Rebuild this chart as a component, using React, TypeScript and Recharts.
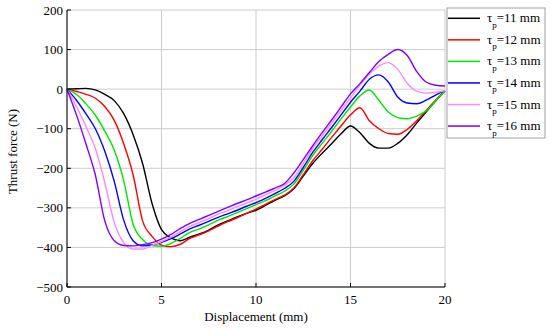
import { LineChart, Line, XAxis, YAxis, CartesianGrid } from 'recharts';

// displacement (mm)
const xs = [
  0, 0.5, 1, 1.5, 2, 2.5, 3, 3.5, 4, 4.5, 5, 5.5, 6, 6.5, 7, 7.5, 8, 8.5, 9, 9.5, 10,
  10.5, 11, 11.5, 12, 12.5, 13, 13.5, 14, 14.5, 15, 15.5, 16, 16.5, 17, 17.5, 18, 18.5, 19, 19.5, 20,
];

// thrust force (N) for each pole pitch
const tau11 = [
  0, 1, 2, -2, -13, -29, -62, -115, -188, -289, -355, -376, -383, -374, -366, -356, -343, -333, -323, -314, -306,
  -294, -281, -270, -252, -220, -188, -162, -138, -113, -93, -110, -137, -149, -149, -137, -115, -86, -58, -30, -4,
];
const tau12 = [
  0, -6, -13, -23, -44, -79, -138, -217, -333, -372, -394, -398, -392, -377, -368, -358, -346, -335, -325, -314, -303,
  -291, -279, -268, -250, -216, -181, -152, -122, -93, -65, -47, -80, -100, -112, -114, -102, -80, -54, -28, -4,
];
const tau13 = [
  0, -13, -37, -66, -106, -154, -231, -342, -380, -395, -397, -390, -377, -362, -353, -343, -331, -322, -312, -302, -292,
  -282, -270, -258, -240, -205, -168, -137, -107, -75, -45, -17, -2, -28, -58, -72, -75, -68, -55, -30, -4,
];
const tau14 = [
  0, -28, -62, -100, -157, -233, -331, -383, -396, -394, -387, -378, -366, -353, -344, -334, -324, -315, -306, -296, -287,
  -276, -264, -251, -233, -198, -160, -128, -97, -65, -33, -5, 25, 36, 18, -20, -35, -37, -28, -15, -4,
];
const tau15 = [
  0, -44, -94, -150, -236, -337, -388, -404, -404, -395, -385, -374, -360, -347, -337, -327, -316, -307, -297, -288, -278,
  -267, -256, -243, -224, -188, -150, -118, -86, -54, -22, 10, 38, 58, 67, 50, 15, -5, -10, -8, -4,
];
const tau16 = [
  0, -65, -138, -217, -333, -383, -395, -396, -393, -388, -379, -367, -352, -339, -329, -319, -309, -299, -289, -280, -270,
  -260, -250, -239, -212, -178, -143, -110, -78, -45, -12, 14, 42, 70, 88, 100, 85, 45, 18, 10, 8,
];

const xTicks = [0, 5, 10, 15, 20];
const yTicks = [-500, -400, -300, -200, -100, 0, 100, 200];

const series = [
  { key: 't11', label: '=11 mm', color: '#000000', values: tau11 },
  { key: 't12', label: '=12 mm', color: '#ff0000', values: tau12 },
  { key: 't13', label: '=13 mm', color: '#00e600', values: tau13 },
  { key: 't14', label: '=14 mm', color: '#0000ff', values: tau14 },
  { key: 't15', label: '=15 mm', color: '#ff88ff', values: tau15 },
  { key: 't16', label: '=16 mm', color: '#8000ff', values: tau16 },
];

const data = xs.map((x, i) => {
  const row: Record<string, number> = { x };
  series.forEach((s) => {
    row[s.key] = s.values[i];
  });
  return row;
});

const FONT = 'Liberation Serif, Times New Roman, serif';
const tickStyle = { fill: '#000', fontSize: 13, fontFamily: FONT };
const minus = (v: number) => String(v).replace('-', '\u2212');

// legend drawn as a small svg box on top of the chart's right edge
const LegendBox = () => (
  <svg width={100} height={133} style={{ position: 'absolute', left: 446, top: 7 }}>
    <rect x={1} y={1} width={98} height={130} fill="#fff" stroke="#a0a0a0" strokeWidth={1} />
    {series.map((s, i) => {
      const y = 11.3 + i * 21.55;
      return (
        <g key={s.key}>
          <line x1={2} x2={34} y1={y} y2={y} stroke={s.color} strokeWidth={1.5} />
          <text x={41} y={y + 4} fontFamily={FONT} fontSize={13} fill="#000">
            τ
            <tspan dy={5.5} fontSize={9}>p</tspan>
            <tspan dy={-5.5} fontSize={13}>{s.label}</tspan>
          </text>
        </g>
      );
    })}
  </svg>
);

export default function App() {
  return (
    <div style={{ position: 'absolute', left: 0, top: 0, width: 550, height: 332, fontFamily: FONT }}>
      <LineChart width={550} height={332} data={data} margin={{ top: 10, right: 105, bottom: 0, left: 0 }}>
        <CartesianGrid stroke="#cccccc" strokeWidth={1} />
        <XAxis
          dataKey="x"
          type="number"
          domain={[0, 20]}
          ticks={xTicks}
          height={45}
          tickSize={-4}
          tickMargin={12}
          tick={tickStyle}
          axisLine={{ stroke: '#000' }}
          tickLine={{ stroke: '#000' }}
          label={{
            value: 'Displacement (mm)',
            position: 'insideBottom',
            offset: 11,
            style: { fill: '#000', fontSize: 13, fontFamily: FONT },
          }}
        />
        <XAxis
          xAxisId="top"
          orientation="top"
          dataKey="x"
          type="number"
          domain={[0, 20]}
          ticks={xTicks}
          height={0}
          tickSize={-4}
          tick={false}
          axisLine={{ stroke: '#000' }}
          tickLine={{ stroke: '#000' }}
        />
        <YAxis
          type="number"
          domain={[-500, 200]}
          ticks={yTicks}
          width={67}
          tickSize={-4}
          tickMargin={8}
          tick={tickStyle}
          tickFormatter={minus}
          axisLine={{ stroke: '#000' }}
          tickLine={{ stroke: '#000' }}
          label={{
            value: 'Thrust force (N)',
            angle: -90,
            position: 'insideLeft',
            offset: 12,
            dy: 3,
            style: { textAnchor: 'middle', fill: '#000', fontSize: 13, fontFamily: FONT },
          }}
        />
        <YAxis
          yAxisId="right"
          orientation="right"
          type="number"
          domain={[-500, 200]}
          ticks={yTicks}
          width={0}
          tickSize={-4}
          tick={false}
          axisLine={{ stroke: '#000' }}
          tickLine={{ stroke: '#000' }}
        />
        {series.map((s) => (
          <Line
            key={s.key}
            dataKey={s.key}
            type="monotone"
            stroke={s.color}
            strokeWidth={1.4}
            dot={false}
            isAnimationActive={false}
          />
        ))}
      </LineChart>
      <LegendBox />
    </div>
  );
}
